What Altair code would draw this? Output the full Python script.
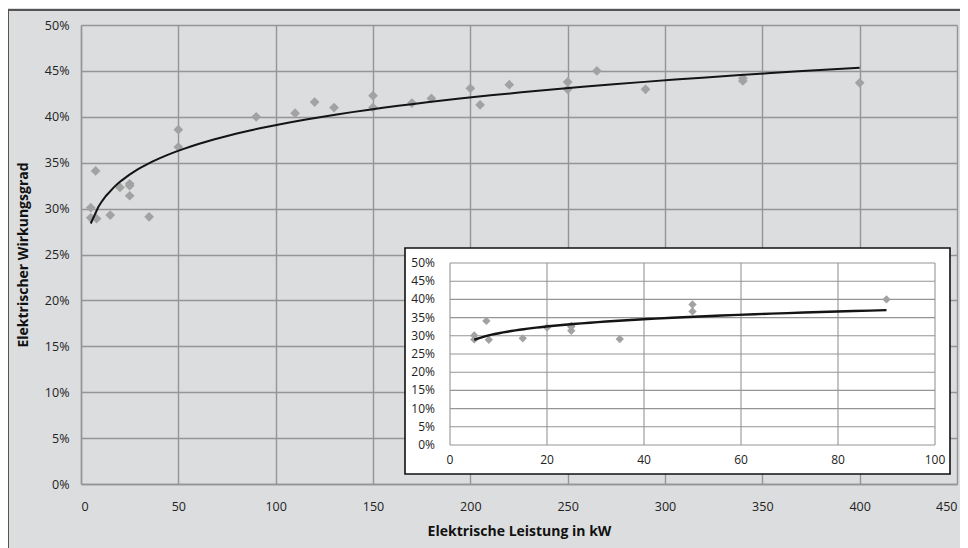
import altair as alt
import pandas as pd

# ---- data ----
kw = [5, 5, 7.5, 8, 15, 20, 25, 25, 25, 35, 50, 50, 90, 110, 120, 130, 150, 150,
      170, 180, 200, 205, 220, 250, 250, 265, 290, 340, 340, 400]
eta = [0.301, 0.290, 0.341, 0.289, 0.293, 0.323, 0.327, 0.325, 0.314, 0.291, 0.386,
       0.367, 0.400, 0.404, 0.416, 0.410, 0.423, 0.410, 0.415, 0.420, 0.431, 0.413,
       0.435, 0.438, 0.430, 0.450, 0.430, 0.442, 0.439, 0.437]

main_x_ticks = [0, 50, 100, 150, 200, 250, 300, 350, 400, 450]
main_y_ticks = [0, 0.05, 0.10, 0.15, 0.20, 0.25, 0.30, 0.35, 0.40, 0.45, 0.50]
inset_x_ticks = [0, 20, 40, 60, 80, 100]
inset_y_ticks = [0, 0.05, 0.10, 0.15, 0.20, 0.25, 0.30, 0.35, 0.40, 0.45, 0.50]
inset_y_labels = ["0%", "5%", "10%", "15%", "20%", "25%", "30%", "35%", "40%", "45%", "50%"]

x_title = "Elektrische Leistung in kW"
y_title = "Elektrischer Wirkungsgrad"

df = pd.DataFrame({"kw": kw, "eta": eta})
df_in = df[df["kw"] <= 100].reset_index(drop=True)

BG = "#dcdddf"
GRID = "#959595"
PT = "#a2a2a2"
FONT = "Open Sans"

W, H = 876, 459

# ---- main chart ----
mx = alt.Scale(domain=[0, 450], nice=False)
my = alt.Scale(domain=[0, 0.5], nice=False)

main_pts = alt.Chart(df).mark_point(
    shape="diamond", filled=True, color=PT, size=95, opacity=1
).encode(
    x=alt.X("kw:Q", scale=mx, axis=alt.Axis(
        values=main_x_ticks, title=x_title, grid=True, gridColor=GRID, gridWidth=1.4,
        domainColor=GRID, domainWidth=1.4, ticks=False, labelPadding=16,
        labelFontSize=12.5, labelColor="#222", labelFont=FONT,
        titleFont=FONT, titleFontSize=14, titleFontWeight="bold", titleColor="#111",
        titlePadding=12)),
    y=alt.Y("eta:Q", scale=my, axis=alt.Axis(
        values=main_y_ticks, format=".0%", title=y_title, grid=True, gridColor=GRID,
        gridWidth=1.4, domainColor=GRID, domainWidth=1.4, ticks=False, labelPadding=12,
        labelFontSize=12.5, labelColor="#222", labelFont=FONT,
        titleFont=FONT, titleFontSize=14, titleFontWeight="bold", titleColor="#111",
        titlePadding=14)),
)

main_line = alt.Chart(df).transform_regression(
    "kw", "eta", method="pow"
).mark_line(color="#141414", strokeWidth=2).encode(
    x=alt.X("kw:Q", scale=mx), y=alt.Y("eta:Q", scale=my)
)

frame = alt.Chart(pd.DataFrame({"a": [0]})).mark_rect(
    fill=None, stroke="#555555", strokeWidth=2
).encode(x=alt.value(-73), x2=alt.value(W + 40), y=alt.value(-15), y2=alt.value(H + 80))

main = alt.layer(frame, main_pts, main_line)

# ---- inset ----
IX0, IX1 = 369, 854
IY0, IY1 = 420, 238
ix = alt.Scale(domain=[0, 100], range=[IX0, IX1], nice=False)
iy = alt.Scale(domain=[0, 0.5], range=[IY0, IY1], nice=False)

box = alt.Chart(pd.DataFrame({"a": [0]})).mark_rect(
    fill="white", stroke="#111111", strokeWidth=1.6
).encode(x=alt.value(324), x2=alt.value(869), y=alt.value(223), y2=alt.value(449))

xt = pd.DataFrame({"v": inset_x_ticks, "lab": [str(v) for v in inset_x_ticks]})
yt = pd.DataFrame({"v": inset_y_ticks, "lab": inset_y_labels})

vgrid = alt.Chart(xt).mark_rule(color=GRID, strokeWidth=1.1).encode(
    x=alt.X("v:Q", scale=ix, axis=None), y=alt.value(IY1), y2=alt.value(IY0))
hgrid = alt.Chart(yt).mark_rule(color=GRID, strokeWidth=1.1).encode(
    y=alt.Y("v:Q", scale=iy, axis=None), x=alt.value(IX0), x2=alt.value(IX1))

xlab = alt.Chart(xt).mark_text(
    fontSize=12, font=FONT, color="#222", baseline="middle", align="center"
).encode(x=alt.X("v:Q", scale=ix, axis=None), y=alt.value(435), text="lab:N")
ylab = alt.Chart(yt).mark_text(
    fontSize=12, font=FONT, color="#222", baseline="middle", align="right"
).encode(y=alt.Y("v:Q", scale=iy, axis=None), x=alt.value(354), text="lab:N")

in_pts = alt.Chart(df_in).mark_point(
    shape="diamond", filled=True, color=PT, size=70, opacity=1
).encode(x=alt.X("kw:Q", scale=ix, axis=None), y=alt.Y("eta:Q", scale=iy, axis=None))

in_line = alt.Chart(df_in).transform_regression(
    "kw", "eta", method="pow"
).mark_line(color="#141414", strokeWidth=2.4).encode(
    x=alt.X("kw:Q", scale=ix, axis=None), y=alt.Y("eta:Q", scale=iy, axis=None))

inset = alt.layer(box, vgrid, hgrid, xlab, ylab, in_pts, in_line)

chart = alt.layer(main, inset).resolve_scale(
    x="independent", y="independent"
).properties(
    width=W, height=H,
    autosize=alt.AutoSizeParams(type="none"),
    padding={"left": 73, "top": 17, "right": 3, "bottom": 64},
    background=BG,
).configure_view(stroke=None)

chart.save("out.html", embed_options={"renderer": "svg", "actions": False})
